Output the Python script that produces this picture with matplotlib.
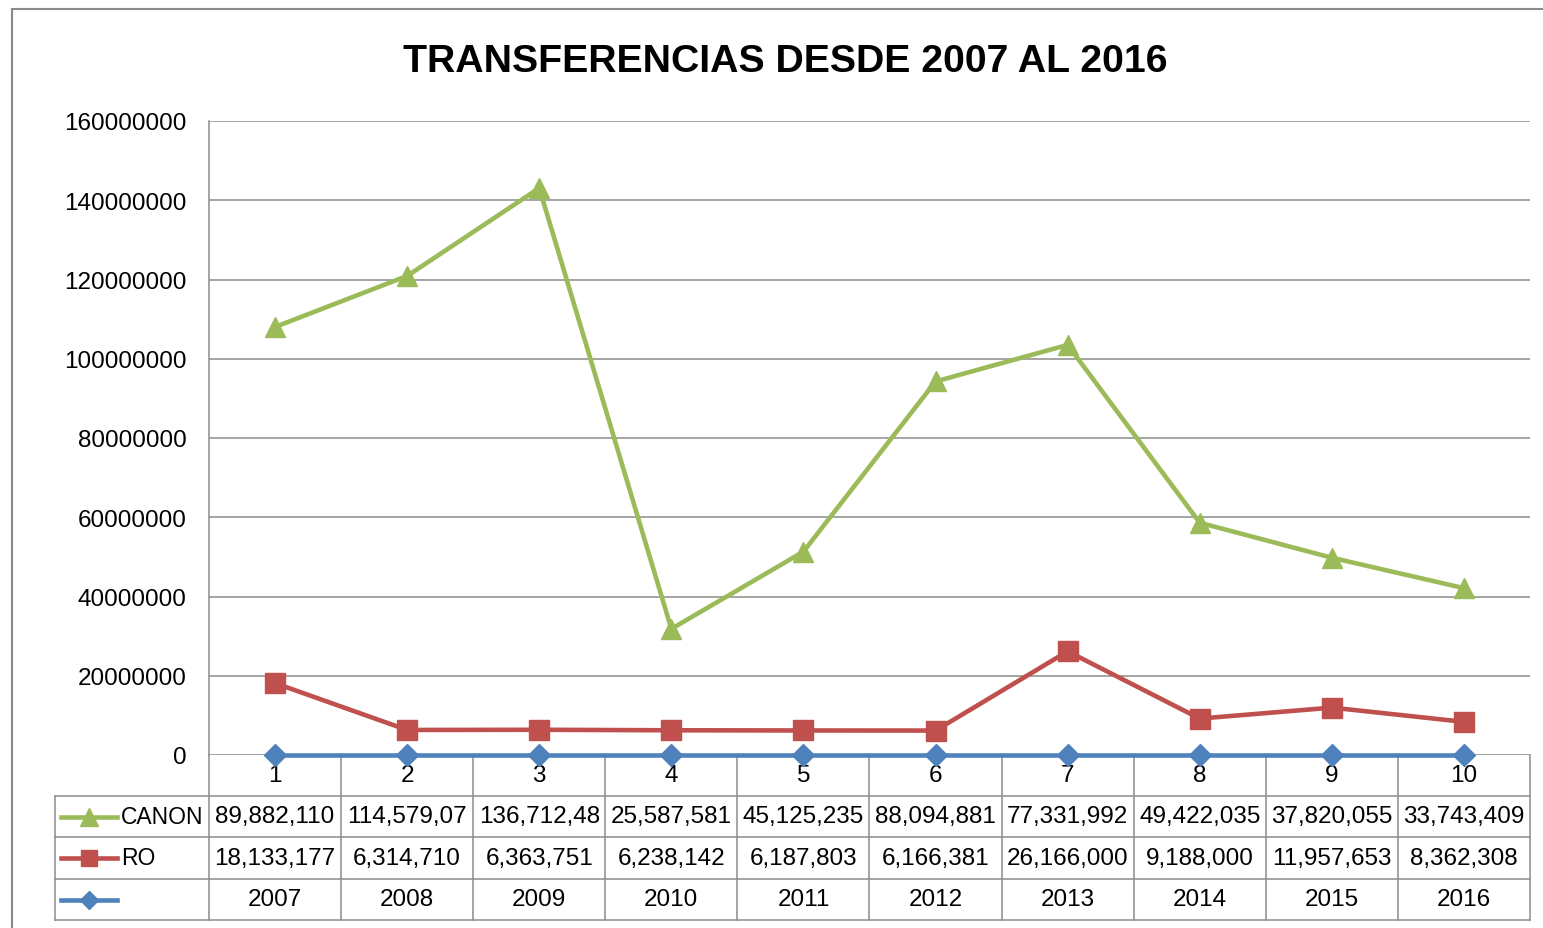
import numpy as np
import matplotlib
matplotlib.use("Agg")
import matplotlib.pyplot as plt
import matplotlib.transforms as transforms
from matplotlib.lines import Line2D
from matplotlib.patches import Rectangle

# donnees du graphique (ligne empilee : annee + RO + CANON)
categories = ["1", "2", "3", "4", "5", "6", "7", "8", "9", "10"]
annees = [2007, 2008, 2009, 2010, 2011, 2012, 2013, 2014, 2015, 2016]
ro = [18133177, 6314710, 6363751, 6238142, 6187803, 6166381, 26166000, 9188000, 11957653, 8362308]
canon = [89882110, 114579070, 136712480, 25587581, 45125235, 88094881, 77331992, 49422035, 37820055, 33743409]
yticks = [0, 20000000, 40000000, 60000000, 80000000, 100000000, 120000000, 140000000, 160000000]

c_canon = "#9BBB59"
c_ro = "#C0504D"
c_an = "#4F81BD"
c_grid = "#8C8C8C"
police = "Liberation Sans"

W, H = 1543, 929
fig = plt.figure(figsize=(W / 100, H / 100), dpi=100)

# cadre du graphique
fig.patches.append(Rectangle((12 / W, -0.1), 1.2, 1 - 10 / H + 0.1, transform=fig.transFigure,
                             fill=False, edgecolor="#8A8A8A", linewidth=1.5))

ax = fig.add_axes([209 / W, 1 - 756 / H, (1530 - 209) / W, (756 - 122) / H])
x = np.arange(len(categories))

# series empilees
s_an = np.array(annees, dtype=float)
s_ro = s_an + np.array(ro)
s_canon = s_ro + np.array(canon)

ax.plot(x, s_canon, color=c_canon, lw=3.3, marker="^", ms=15, zorder=5)
ax.plot(x, s_ro, color=c_ro, lw=3.3, marker="s", ms=14, zorder=5)
ax.plot(x, s_an, color=c_an, lw=3.3, marker="D", ms=11, zorder=6, clip_on=False)

ax.set_xlim(-0.5, len(categories) - 0.5)
ax.set_ylim(0, 160000000)
ax.set_yticks(yticks)
ax.set_yticklabels([str(v) for v in yticks], fontsize=17.5, family=police)
ax.tick_params(axis="y", length=0, pad=16)
ax.set_xticks([])
for v in yticks:
    ax.axhline(v, color=c_grid, lw=1.1, zorder=1)
for sp in ["top", "right", "bottom"]:
    ax.spines[sp].set_visible(False)
ax.spines["left"].set_color(c_grid)
ax.spines["left"].set_linewidth(1.1)

fig.text(785 / W, 1 - 62 / H, "TRANSFERENCIAS DESDE 2007 AL 2016", ha="center", va="center",
         fontsize=28.3, fontweight="bold", family=police)

# tableau de donnees sous l'axe
tr = transforms.blended_transform_factory(ax.transData, ax.transAxes)
hpx = 756 - 122
lignes = [0, -(797 - 756) / hpx, -(838 - 756) / hpx, -(880 - 756) / hpx, -(921 - 756) / hpx]
xg = -0.5 - (209 - 55) / 132.1

def seg(x0, x1, y0, y1):
    ax.add_line(Line2D([x0, x1], [y0, y1], transform=tr, color=c_grid, lw=1.1, clip_on=False))

for y in lignes[1:]:
    seg(xg, len(categories) - 0.5, y, y)
for i in range(len(categories) + 1):
    seg(i - 0.5, i - 0.5, lignes[0], lignes[-1])
seg(xg, xg, lignes[1], lignes[-1])

def milieu(k):
    return (lignes[k] + lignes[k + 1]) / 2

for i, c in enumerate(categories):
    ax.text(i, milieu(0), c, transform=tr, ha="center", va="center", fontsize=17.5, family=police)
for i in range(len(categories)):
    ax.text(i, milieu(1), f"{canon[i]:,}"[:10], transform=tr, ha="center", va="center",
            fontsize=17.5, family=police)
    ax.text(i, milieu(2), f"{ro[i]:,}"[:10], transform=tr, ha="center", va="center",
            fontsize=17.5, family=police)
    ax.text(i, milieu(3), str(annees[i]), transform=tr, ha="center", va="center",
            fontsize=17.5, family=police)

# cles de legende dans le tableau
lx0 = (62 - 276) / 132.1
lx1 = (118 - 276) / 132.1
lxm = (90 - 276) / 132.1
for k, (col, mk, ms, nom) in enumerate([(c_canon, "^", 13, "CANON"), (c_ro, "s", 12, "RO"), (c_an, "D", 9, "")]):
    y = milieu(k + 1)
    ax.add_line(Line2D([lx0, lx1], [y, y], transform=tr, color=col, lw=3.3, clip_on=False))
    ax.add_line(Line2D([lxm], [y], transform=tr, color=col, marker=mk, ms=ms, clip_on=False))
    ax.text((122 - 276) / 132.1, y, nom, transform=tr, ha="left", va="center", fontsize=16.5, family=police)

fig.savefig("out.png", dpi=100)
